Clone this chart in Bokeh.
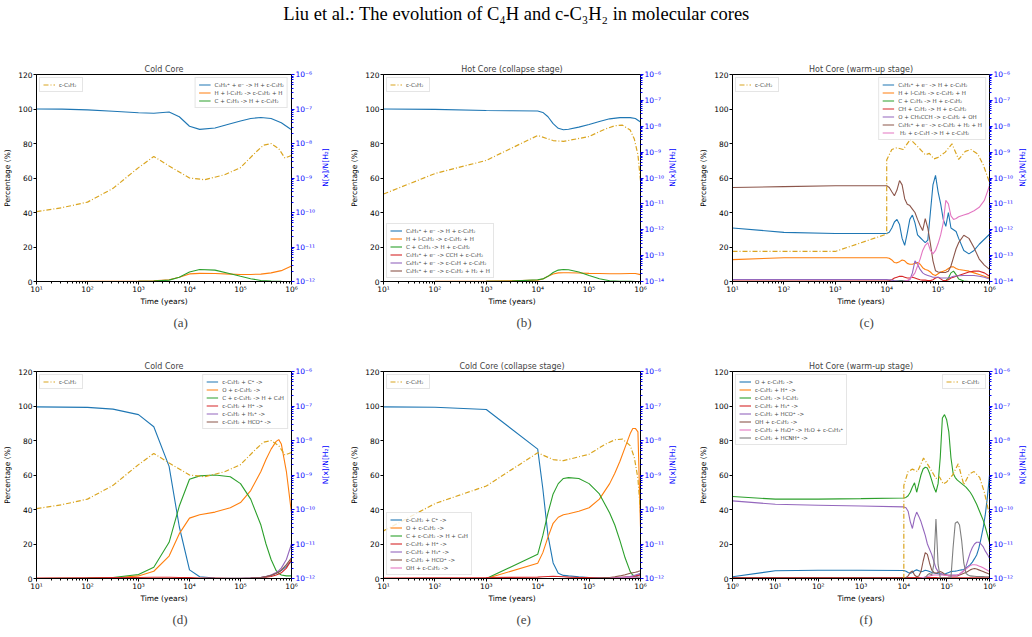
import math
from bokeh.plotting import figure
from bokeh.layouts import column, row
from bokeh.models import (Range1d, LogScale, LogAxis, FixedTicker, CustomJSTickFormatter,
                          Legend, LegendItem, Title)
from bokeh.core.properties import value
from bokeh.embed import file_html
from bokeh.resources import INLINE

FONT = "DejaVu Sans"
SERIF = "Liberation Serif"
BLUE, ORANGE, GREEN, RED = "#1f77b4", "#ff7f0e", "#2ca02c", "#d62728"
PURPLE, BROWN, PINK, GRAY = "#9467bd", "#8c564b", "#e377c2", "#7f7f7f"
GOLD = "#daa520"
FRAME_W, FRAME_H, TOP = 259, 207, 30
CELL_W, RIGHT_B = 344, 25

# ---------------- c-C3H2 abundances N[x]/N[H2] ----------------
logt_cold_ab = [1, 1.5, 2, 2.5, 3, 3.3, 3.6, 4.0, 4.3, 4.7, 5.0, 5.3, 5.45, 5.6, 5.75, 5.87, 6.0]
ab_cold = [1.06e-10, 1.38e-10, 2.0e-10, 5.0e-10, 2.0e-9, 4.2e-9, 2.24e-9, 1.0e-9, 8.9e-10,
           1.26e-9, 2.0e-9, 5.6e-9, 8.9e-9, 1.0e-8, 7.1e-9, 3.8e-9, 4.5e-9]

logt_coll_ab = [1, 2, 3, 4.0, 4.3, 4.5, 5.0, 5.3, 5.5, 5.65, 5.8, 5.88, 5.95, 6.0]
ab_coll = [2.4e-11, 1.48e-10, 4.8e-10, 4.4e-9, 2.8e-9, 2.6e-9, 4.0e-9, 7.6e-9, 1.05e-8,
           1.1e-8, 7.1e-9, 3.2e-9, 7.9e-10, 7.9e-11]

logt_warm_ab = [1, 2, 3, 4.0, 4.0, 4.1, 4.2, 4.32, 4.46, 4.56, 4.68, 4.75, 4.83, 4.92, 5.0,
                5.14, 5.27, 5.4, 5.53, 5.64, 5.77, 5.88, 6.0]
ab_warm = [1.45e-13, 1.45e-13, 1.45e-13, 6.8e-13, 5.0e-10, 1.26e-9, 1.48e-9, 1.26e-9, 3.1e-9,
           2.0e-9, 1.12e-9, 7.9e-10, 8.9e-10, 5.5e-10, 6.3e-10, 1.0e-9, 2.1e-9, 5.2e-10,
           1.07e-9, 1.26e-9, 8.5e-10, 3.16e-10, 6.8e-11]

# ---------------- (a) Cold core, formation (%) ----------------
logt_a = [1, 1.5, 2, 2.5, 3, 3.3, 3.6, 3.8, 4.0, 4.2, 4.5, 4.8, 5.0, 5.2, 5.4, 5.6, 5.8, 6.0]
a_blue = [100, 99.9, 99.5, 98.7, 97.8, 97.5, 98.3, 95.5, 90, 88.2, 89, 91.5, 93, 94.5, 95.1, 94.5, 92, 88]
a_orange = [0, 0, 0.05, 0.1, 0.2, 0.4, 1.0, 2.5, 4.4, 4.7, 4.6, 4.3, 4.1, 4.1, 4.3, 5.0, 6.3, 9]
a_green = [0, 0, 0, 0, 0.05, 0.2, 0.8, 2.5, 5.5, 7.0, 6.6, 4.5, 3.0, 1.6, 0.6, 0.2, 0.05, 0]

# ---------------- (b) Hot core collapse, formation (%) ----------------
logt_b = [1, 2, 3, 3.5, 4.0, 4.1, 4.2, 4.3, 4.4, 4.5, 4.6, 4.8, 5.0, 5.2, 5.4, 5.6, 5.8, 5.9, 6.0]
b_blue = [100, 99.8, 99.1, 99.0, 98.8, 98, 95.5, 91.5, 88.8, 88.0, 88.3, 89.5, 91, 92.8, 94.3, 95, 95, 94.5, 92.5]
b_orange = [0, 0.05, 0.2, 0.4, 0.8, 1.5, 3.0, 4.3, 5.0, 5.1, 5.1, 4.9, 4.7, 4.6, 4.5, 4.5, 4.6, 4.6, 4.0]
b_green = [0, 0, 0.05, 0.2, 1.0, 1.5, 3.0, 5.2, 6.6, 7.0, 6.8, 5.5, 3.5, 1.6, 0.4, 0.1, 0.05, 0.02, 0]
b_red = [0, 0, 0, 0, 0, 0, 0, 0, 0, 0, 0, 0, 0, 0, 0, 0, 0, 0, 0]
b_purple = [0, 0, 0, 0, 0, 0, 0, 0, 0, 0, 0, 0, 0, 0, 0, 0, 0, 0, 0]
b_brown = [0, 0, 0, 0, 0, 0, 0, 0, 0, 0, 0, 0, 0, 0, 0, 0, 0, 0, 0]

# ---------------- (c) Hot core warm-up, formation (%) ----------------
logt_c = [1, 2, 3,
          4.0, 4.05, 4.1, 4.15, 4.2, 4.25, 4.3, 4.35, 4.4, 4.45,
          4.5, 4.55, 4.6, 4.65, 4.7, 4.75, 4.8, 4.85, 4.9, 4.95,
          5.0, 5.05, 5.1, 5.15, 5.2, 5.25, 5.3, 5.35, 5.4,
          5.5, 5.6, 5.7, 5.8, 5.9, 6.0]
c_blue = [31, 28.5, 27.8,
          27.8, 28.5, 31, 34.5, 36, 33, 25, 21, 28, 36,
          38.5, 34, 27, 25.5, 24, 22.5, 24, 40, 56, 61.5,
          52, 45, 36, 32, 40, 31, 30, 29, 25,
          18, 16, 18, 21.6, 24.5, 27.4]
c_orange = [12.7, 13.8, 13.8,
            13.8, 13.5, 12.5, 11, 10.8, 11.5, 12.5, 12, 10.5, 10,
            10, 10.5, 11, 10, 8, 7, 6.5, 5.5, 4, 3.5,
            4.5, 5.5, 6, 6.5, 7.5, 8.5, 8.5, 7.5, 7,
            6.5, 6, 5, 4, 3, 2]
c_green = [0, 0, 0,
           0, 0, 0, 0.1, 0.3, 0.5, 0.5, 0.3, 0.1, 0,
           0, 0, 0, 0, 0, 0, 0, 0, 0, 0,
           0, 0, 0.1, 0.5, 2, 5, 6, 4, 1.5,
           0.3, 0, 0, 0, 0, 0]
c_red = [0.3, 0.3, 0.3,
         0.3, 0.5, 1, 2, 2.5, 3, 3, 2.5, 2, 2,
         2.5, 2, 1.5, 1, 0.8, 0.8, 0.6, 0.5, 1, 2,
         2.5, 1.5, 0.5, 0.5, 1, 2, 2.5, 3, 3.5,
         4.5, 5.5, 6, 6, 5, 3]
c_purple = [1.2, 1.2, 1.2,
            1.2, 1, 0.8, 0.5, 0.4, 0.3, 0.3, 0.3, 0.5, 1,
            5, 12, 10, 7, 5, 4, 3.5, 3, 2.5, 2.5,
            2.5, 2, 2, 2, 2.2, 2.5, 3, 3.2, 3.3,
            3.5, 3.5, 3.5, 3, 2.5, 1.5]
c_brown = [54.5, 55, 55.5,
           55.5, 54.5, 52, 49.7, 53, 58.5, 56, 48, 44.8, 44,
           42, 40, 36, 32.5, 29.5, 36.5, 31, 22, 12, 6.2,
           5.5, 5.3, 5.2, 5.3, 6, 9, 14, 19, 22.5,
           26.8, 25, 19.5, 13, 9.5, 7]
c_pink = [0, 0, 0,
          0, 0, 0, 0, 0, 0, 0, 0.2, 0.5, 1.5,
          3, 5, 9, 13, 18, 21, 22.5, 18, 16, 18,
          22, 27, 34, 47, 45, 38, 36, 36.5, 37.5,
          38.5, 39.5, 41, 43, 47, 55.5]

# ---------------- (d) Cold core, destruction (%) ----------------
logt_d = [1, 2, 2.5, 3, 3.3, 3.6, 3.8, 4.0, 4.2, 4.5, 4.8, 5.0, 5.2, 5.4, 5.5, 5.6, 5.7, 5.75, 5.8, 5.9, 6.0]
d_blue = [99.5, 99.2, 98.2, 95, 88, 65, 30, 5, 1, 0.3, 0.1, 0.1, 0.2, 0.5, 1, 1.8, 3, 3.8, 4.6, 7, 10]
d_orange = [0, 0.1, 0.3, 1.5, 4.2, 13, 26, 35, 37, 38.5, 41, 44, 51, 62, 69, 75, 79.5, 80.5, 78, 62, 38]
d_green = [0, 0.2, 0.6, 2.3, 6.5, 21, 42, 57.5, 59.5, 60, 59, 55, 46, 31, 20, 11, 4.5, 3, 2, 1.5, 1.5]
d_red = [0.3, 0.4, 0.5, 0.6, 0.7, 0.7, 0.6, 0.5, 0.3, 0.2, 0.1, 0.1, 0.2, 0.5, 0.8, 1.2, 2, 2.6, 3.3, 6, 11]
d_purple = [0, 0, 0, 0, 0, 0, 0, 0, 0, 0, 0, 0, 0.2, 0.6, 1.2, 2, 3.5, 4.5, 6, 11, 20]
d_brown = [0, 0, 0, 0, 0, 0, 0, 0, 0, 0, 0, 0, 0.2, 0.6, 1.1, 1.8, 3, 3.8, 4.8, 8, 12]

# ---------------- (e) Cold core collapse, destruction (%) ----------------
logt_e = [1, 2, 3, 4.0, 4.1, 4.2, 4.3, 4.4, 4.5, 4.6, 4.8, 5.0, 5.2, 5.4, 5.5, 5.6, 5.7, 5.8, 5.85, 5.9, 5.95, 6.0]
e_blue = [99.5, 99.3, 98, 75, 52, 25, 9, 3, 1.8, 1.5, 1, 0.6, 0.4, 0.3, 0.3, 0.3, 0.4, 0.5, 0.7, 1, 1.5, 3]
e_orange = [0, 0, 0, 8.8, 15, 24, 32, 35.5, 37, 37.5, 39, 41, 46, 55, 61, 68, 76, 84, 87, 87, 85, 30]
e_green = [0, 0, 0, 14, 25, 38, 49, 55, 58, 58.5, 58, 55, 49, 38, 31, 22, 12, 4, 2, 1, 0.5, 0]
e_red = [0.3, 0.4, 0.5, 0.8, 1, 1.2, 1.3, 1.2, 1, 0.8, 0.6, 0.5, 0.4, 0.4, 0.5, 0.6, 0.8, 1, 1.2, 1.5, 1.8, 2]
e_purple = [0, 0, 0, 0, 0, 0, 0, 0, 0, 0, 0, 0, 0.1, 0.2, 0.3, 0.5, 0.8, 1.2, 1.5, 2, 2.5, 3]
e_brown = [0, 0, 0, 0, 0, 0, 0, 0, 0, 0, 0, 0.1, 0.3, 0.6, 1, 1.5, 2.2, 3, 3.3, 3.6, 4, 4.5]
e_pink = [0, 0, 0, 0, 0, 0, 0, 0, 0, 0, 0, 0, 0, 0.1, 0.2, 0.3, 0.4, 0.5, 0.6, 0.7, 0.8, 1]

# ---------------- (f) Hot core warm-up, destruction (%) ----------------
logt_f = [0, 1, 2, 3, 4.0,
          4.05, 4.1, 4.15, 4.2, 4.25,
          4.3, 4.35, 4.4, 4.45, 4.5,
          4.55, 4.6, 4.65, 4.7, 4.75,
          4.8, 4.85, 4.9, 4.95, 5.0,
          5.05, 5.1, 5.15, 5.2, 5.25,
          5.3, 5.35, 5.4, 5.45, 5.5,
          5.55, 5.6, 5.65, 5.7, 5.75,
          5.8, 5.85, 5.9, 5.95, 6.0]
f_blue = [1, 4.5, 4.8, 4.8, 4.6,
          4.2, 3.5, 3, 3.5, 4.5,
          5, 4.5, 4, 4.2, 4.8,
          4.5, 4, 3.5, 3.2, 3,
          2.8, 2.5, 2.5, 2.5, 3,
          3.5, 4, 4.2, 4.3, 4.5,
          4.8, 5, 5.2, 6, 7,
          8, 9.5, 11.5, 13.6, 17.5,
          23, 29, 36.7, 47, 59.8]
f_orange = [0, 0, 0, 0, 0,
            0, 0, 0, 0, 0,
            0, 0, 0, 0, 0,
            0, 0, 0, 0, 0,
            0, 0, 0, 0, 0,
            0, 0, 0, 0, 0,
            0, 0, 0, 0, 0,
            0, 0, 0, 0, 0,
            0, 0, 0, 0, 0]
f_green = [47.5, 46, 46, 46.3, 46.7,
           47, 48, 50, 53, 55.5,
           50, 55, 60, 63.5, 64.5,
           64, 61, 57, 53, 50,
           55, 70, 93, 95, 92,
           85, 70, 61, 58.5, 57,
           56, 55, 54, 53, 51.5,
           50, 48, 45.5, 43, 40,
           37, 34, 30, 25.5, 21]
f_red = [0.6, 0.6, 0.6, 0.6, 0.6,
         0.6, 0.6, 0.6, 0.6, 0.6,
         0.6, 0.6, 0.6, 0.6, 0.6,
         0.5, 0.5, 0.5, 0.5, 0.5,
         0.4, 0.4, 0.4, 0.4, 0.4,
         0.4, 0.4, 0.4, 0.4, 0.4,
         0.4, 0.4, 0.4, 0.4, 0.4,
         0.4, 0.4, 0.4, 0.4, 0.4,
         0.4, 0.4, 0.4, 0.4, 0.4]
f_purple = [45, 43, 42.5, 42, 41.5,
            41, 39, 33, 29, 35,
            38.5, 36, 33, 29, 25,
            20, 17, 14, 10, 6,
            4, 3, 2.5, 2, 2,
            2, 2, 2, 2, 2,
            2.5, 3.5, 4.5, 7, 11,
            15, 18, 20, 21, 21,
            20, 18.5, 16, 14, 11.7]
f_brown = [0.3, 0.3, 0.3, 0.3, 0.3,
           0.5, 1.5, 3.5, 4.4, 2,
           1, 1.5, 4, 10, 15,
           14, 9, 5, 3.5, 3,
           3.5, 4, 3.5, 2.5, 2,
           1.5, 1.5, 1.5, 1.5, 1.5,
           2, 2.5, 3, 3.5, 4.2,
           5, 5.5, 5.8, 5.5, 5,
           4.5, 4, 3.5, 3, 2.5]
f_pink = [0, 0, 0, 0, 0,
          0, 0, 0, 0, 0,
          0, 0.1, 0.3, 0.5, 1,
          1.2, 1.5, 1.8, 2, 2,
          2, 2, 2, 1.9, 1.8,
          1.6, 1.5, 1.5, 1.5, 2,
          2.5, 3.5, 4.5, 5.5, 6.5,
          7.5, 8, 8, 7.8, 7.3,
          6.8, 6.2, 5.5, 4.8, 4]
f_gray = [0, 0, 0, 0, 0,
          0, 0, 0, 0, 0,
          0, 0, 0, 0, 0.5,
          2, 3, 2, 8, 34.5,
          8, 0.5, 0.3, 0.3, 0.3,
          0.3, 0.5, 18, 32, 33,
          31, 22, 9, 3, 2,
          1.5, 1.4, 1.3, 1.2, 1.2,
          1.1, 1.1, 1, 1, 1]

# ---------------- legend labels ----------------
FORM_3 = ["C₃H₃⁺ + e⁻ -> H + c-C₃H₂", "H + l-C₃H₂ -> c-C₃H₂ + H", "C + C₂H₃ -> H + c-C₃H₂"]
FORM_B = FORM_3 + ["C₅H₃⁺ + e⁻ -> CCH + c-C₃H₂", "C₆H₃⁺ + e⁻ -> c-C₃H + c-C₃H₂",
                   "C₃H₅⁺ + e⁻ -> c-C₃H₂ + H₂ + H"]
FORM_C = FORM_3 + ["CH + C₂H₂ -> H + c-C₃H₂", "O + CH₃CCH -> c-C₃H₂ + OH",
                   "C₃H₅⁺ + e⁻ -> c-C₃H₂ + H₂ + H", " H₂ + c-C₃H -> H + c-C₃H₂"]
DEST_D = ["c-C₃H₂ + C⁺ ->", "O + c-C₃H₂ ->", "C + c-C₃H₂ -> H + C₄H", "c-C₃H₂ + H⁺ ->",
          "c-C₃H₂ + H₃⁺ ->", "c-C₃H₂ + HCO⁺ ->"]
DEST_E = DEST_D + ["OH + c-C₃H₂ ->"]
DEST_F = ["O + c-C₃H₂ ->", "c-C₃H₂ + H⁺ ->", "c-C₃H₂ -> l-C₃H₂", "c-C₃H₂ + H₃⁺ ->",
          "c-C₃H₂ + HCO⁺ ->", "OH + c-C₃H₂ ->", "c-C₃H₂ + H₃O⁺ -> H₂O + c-C₃H₃⁺",
          "c-C₃H₂ + HCNH⁺ ->"]

SUP_JS = """
const sup = {"-": "\u207b", "0": "\u2070", "1": "\u00b9", "2": "\u00b2", "3": "\u00b3",
             "4": "\u2074", "5": "\u2075", "6": "\u2076", "7": "\u2077", "8": "\u2078", "9": "\u2079"};
const e = Math.round(Math.log10(tick));
return "10" + String(e).split("").map((c) => sup[c]).join("");
"""

LEG_STYLE = dict(label_text_font=FONT, label_text_font_size="5.5px", glyph_width=12,
                 glyph_height=7, label_height=7, spacing=1, padding=3, margin=3,
                 label_standoff=4, border_line_color="#cccccc", border_line_width=1,
                 background_fill_alpha=0.8)


def years(logt):
    return [10.0 ** v for v in logt]


def style_axis(ax, color="black"):
    ax.axis_label_text_font = FONT
    ax.axis_label_text_font_size = "7.5px"
    ax.axis_label_text_font_style = "normal"
    ax.axis_label_text_color = color
    ax.major_label_text_font = FONT
    ax.major_label_text_font_size = "7.5px"
    ax.major_label_text_color = color
    ax.major_label_standoff = 1
    ax.axis_label_standoff = 3
    ax.major_tick_in = 0
    ax.major_tick_out = 3
    ax.minor_tick_in = 0
    ax.minor_tick_out = 2
    ax.major_tick_line_color = color
    ax.minor_tick_line_color = color
    ax.axis_line_color = "black"


def make_panel(title, caption, cap_offset, x_lo, ab_lo, logt, series, ab_logt, ab_vals,
               legend_loc, ab_loc, b_left, height, b_bottom, label_cx):
    fig_w = b_left + FRAME_W + RIGHT_B
    p = figure(width=fig_w, height=height, x_axis_type="log",
               x_range=Range1d(10.0 ** x_lo, 1e6), y_range=Range1d(0, 120),
               min_border_left=b_left, min_border_right=RIGHT_B,
               min_border_top=TOP, min_border_bottom=b_bottom,
               toolbar_location=None, output_backend="svg")
    p.title.text = title
    p.title.align = "center"
    p.title.text_font = FONT
    p.title.text_font_size = "8px"
    p.title.text_font_style = "normal"
    p.title.standoff = 2
    p.grid.visible = False
    p.outline_line_color = "black"
    p.outline_line_width = 1

    p.extra_y_ranges = {"ab": Range1d(10.0 ** ab_lo, 1e-6)}
    p.extra_y_scales = {"ab": LogScale()}

    fmt = CustomJSTickFormatter(code=SUP_JS)
    xa = p.xaxis[0]
    xa.ticker = FixedTicker(ticks=[10.0 ** k for k in range(x_lo, 7)],
                            minor_ticks=[m * 10.0 ** k for k in range(x_lo, 6) for m in range(2, 10)])
    xa.formatter = fmt
    xa.axis_label = "Time (years)"
    style_axis(xa)
    xa.major_label_standoff = 0
    xa.axis_label_standoff = 0

    ya = p.yaxis[0]
    ya.ticker = FixedTicker(ticks=[0, 20, 40, 60, 80, 100, 120])
    ya.axis_label = "Percentage (%)"
    style_axis(ya)

    decs = list(range(ab_lo, -5))
    ra = LogAxis(y_range_name="ab",
                 ticker=FixedTicker(ticks=[10.0 ** k for k in decs],
                                    minor_ticks=[m * 10.0 ** k for k in decs[:-1] for m in range(2, 10)]),
                 formatter=CustomJSTickFormatter(code=SUP_JS))
    style_axis(ra, "blue")
    p.add_layout(ra, "right")

    t = years(logt)
    items = []
    for label, color, vals in series:
        r = p.line(t, vals, line_color=color, line_width=1.1)
        items.append(LegendItem(label=value(label), renderers=[r]))
    r_ab = p.line(years(ab_logt), ab_vals, y_range_name="ab", line_color=GOLD,
                  line_width=1.2, line_dash="5 2 1 2")

    p.add_layout(Legend(items=items, location=legend_loc, **LEG_STYLE))
    p.add_layout(Legend(items=[LegendItem(label=value("c-C₃H₂"), renderers=[r_ab])],
                        location=ab_loc, **LEG_STYLE))

    p.add_layout(Title(text=caption, align="left", offset=cap_offset, text_font=SERIF,
                       text_font_size="13px", text_font_style="normal", standoff=8), "below")

    # narrow strip to the right carrying the abundance-axis title, read bottom to top
    strip_w = CELL_W - fig_w
    s = figure(width=strip_w, height=height, x_range=Range1d(0, strip_w), y_range=Range1d(0, height),
               min_border=0, toolbar_location=None, output_backend="svg",
               x_axis_location=None, y_axis_location=None)
    s.grid.visible = False
    s.outline_line_color = None
    s.text(x=[label_cx], y=[height - TOP - FRAME_H / 2], text=["N[x]/N[H₂]"], angle=math.pi / 2,
           text_font=value(FONT), text_font_size="7.5px", text_color="blue",
           text_align="center", text_baseline="middle")
    return p, s


COLORS = [BLUE, ORANGE, GREEN, RED, PURPLE, BROWN, PINK, GRAY]

pa = make_panel("Cold Core", "(a)", 137, 1, -12, logt_a,
                list(zip(FORM_3, COLORS, [a_blue, a_orange, a_green])),
                logt_cold_ab, ab_cold, "top_right", "top_left", 34, 297, 60, 7)
pb = make_panel("Hot Core (collapse stage)", "(b)", 133, 1, -14, logt_b,
                list(zip(FORM_B, COLORS, [b_blue, b_orange, b_green, b_red, b_purple, b_brown])),
                logt_coll_ab, ab_coll, "bottom_left", "top_left", 39, 297, 60, 5)
pc = make_panel("Hot Core (warm-up stage)", "(c)", 127, 1, -14, logt_c,
                list(zip(FORM_C, COLORS, [c_blue, c_orange, c_green, c_red, c_purple, c_brown, c_pink])),
                logt_warm_ab, ab_warm, "top_right", "top_left", 44, 297, 60, 6)
pd = make_panel("Cold Core", "(d)", 136, 1, -12, logt_d,
                list(zip(DEST_D, COLORS, [d_blue, d_orange, d_green, d_red, d_purple, d_brown])),
                logt_cold_ab, ab_cold, "top_right", "top_left", 34, 296, 59, 7)
pe = make_panel("Cold Core (collapse stage)", "(e)", 133, 1, -12, logt_e,
                list(zip(DEST_E, COLORS, [e_blue, e_orange, e_green, e_red, e_purple, e_brown, e_pink])),
                logt_coll_ab, ab_coll, "bottom_left", "top_left", 39, 296, 59, 5)
pf = make_panel("Hot Core (warm-up stage)", "(f)", 127, 0, -12, logt_f,
                list(zip(DEST_F, COLORS, [f_blue, f_orange, f_green, f_red, f_purple, f_brown, f_pink, f_gray])),
                logt_warm_ab, ab_warm, "top_left", "top_right", 44, 296, 59, 6)

header = figure(width=1032, height=44, x_range=Range1d(0, 1032), y_range=Range1d(0, 44),
                min_border=0, toolbar_location=None, output_backend="svg",
                x_axis_location=None, y_axis_location=None)
header.grid.visible = False
header.outline_line_color = None
header.text(x=[516], y=[31], text=["Liu et al.: The evolution of C₄H and c-C₃H₂ in molecular cores"],
            text_font=value(SERIF), text_font_size="18.5px", text_align="center",
            text_baseline="alphabetic", text_color="black")

layout = column(header,
                row(pa[0], pa[1], pb[0], pb[1], pc[0], pc[1]),
                row(pd[0], pd[1], pe[0], pe[1], pf[0], pf[1]))

with open("out.html", "w", encoding="utf-8") as fh:
    fh.write(file_html(layout, INLINE))
